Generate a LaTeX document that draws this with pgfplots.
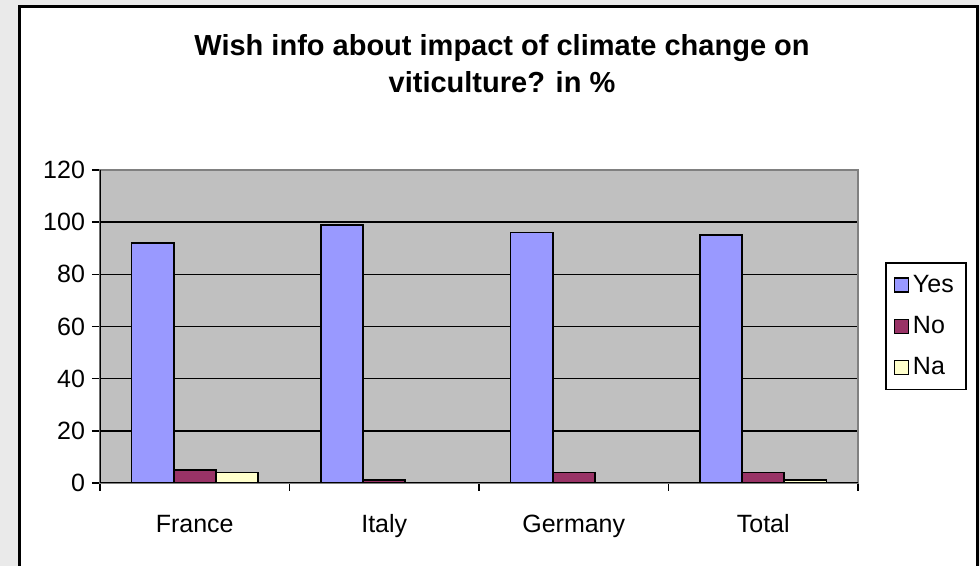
\documentclass[border=0pt]{standalone}
\usepackage{pgfplots}
\pgfplotsset{compat=1.18}
\usepackage{fontspec}
\setmainfont{Liberation Sans}
\definecolor{yescol}{HTML}{9999FF}
\definecolor{nocol}{HTML}{993366}
\definecolor{nacol}{HTML}{FFFFCC}
\definecolor{plotbg}{HTML}{C0C0C0}
\definecolor{outerbg}{HTML}{EAEAEA}

\begin{document}
\begin{tikzpicture}
  \useasboundingbox (0,0) rectangle (490pt,283pt);
  \clip (0,0) rectangle (490pt,283pt);
  \fill[outerbg] (0,0) rectangle (490pt,283pt);
  \draw[line width=1.5pt, fill=white] (9.5pt,-5pt) rectangle (488.5pt,279.5pt);
  \node[font=\bfseries\fontsize{14.5}{18.5}\selectfont, align=center] at (251pt,251pt)
    {Wish info about impact of climate change on\\viticulture? in \%};
  \begin{axis}[
    at={(50pt,41.5pt)}, anchor=south west,
    scale only axis, width=379pt, height=156.5pt,
    ybar=0pt, bar width=0.2222,
    xmin=-0.5, xmax=3.5, ymin=0, ymax=120,
    x tick label as interval,
    xtick={-0.5,0.5,1.5,2.5,3.5},
    xticklabels={France, Italy, Germany, Total},
    ytick={0,20,40,60,80,100,120},
    tick align=outside, tick pos=left,
    major tick length=4pt,
    every tick/.style={black, line width=0.8pt},
    ymajorgrids, major grid style={black, line width=0.8pt},
    axis line style={draw=gray, line width=1pt},
    axis background/.style={fill=plotbg},
    ticklabel style={font=\fontsize{12.5}{15}\selectfont},
    /pgf/number format/assume math mode=true,
    xticklabel style={yshift=-8pt, text height=9pt, text depth=2.5pt},
    legend style={at={(1.0356,0.706)}, anchor=north west,
      draw=black, line width=0.8pt, font=\fontsize{12.5}{15}\selectfont,
      row sep=6.5pt, inner xsep=4pt, inner ysep=4pt, cells={anchor=west}},
    legend image code/.code={\draw[#1, line width=0.6pt] (0pt,-3.5pt) rectangle (7pt,3.5pt);},
  ]
    \addplot[fill=yescol, draw=black, line width=0.9pt] coordinates {(0,92) (1,99) (2,96) (3,95)};
    \addplot[fill=nocol, draw=black, line width=0.9pt] coordinates {(0,5) (1,1) (2,4) (3,4)};
    \addplot[fill=nacol, draw=black, line width=0.9pt] coordinates {(0,4) (1,0) (2,0) (3,1)};
    \legend{Yes, No, Na}
    \draw[black, line width=1pt] (rel axis cs:0,1) -- (rel axis cs:0,0) -- (rel axis cs:1,0);
  \end{axis}
\end{tikzpicture}
\end{document}
